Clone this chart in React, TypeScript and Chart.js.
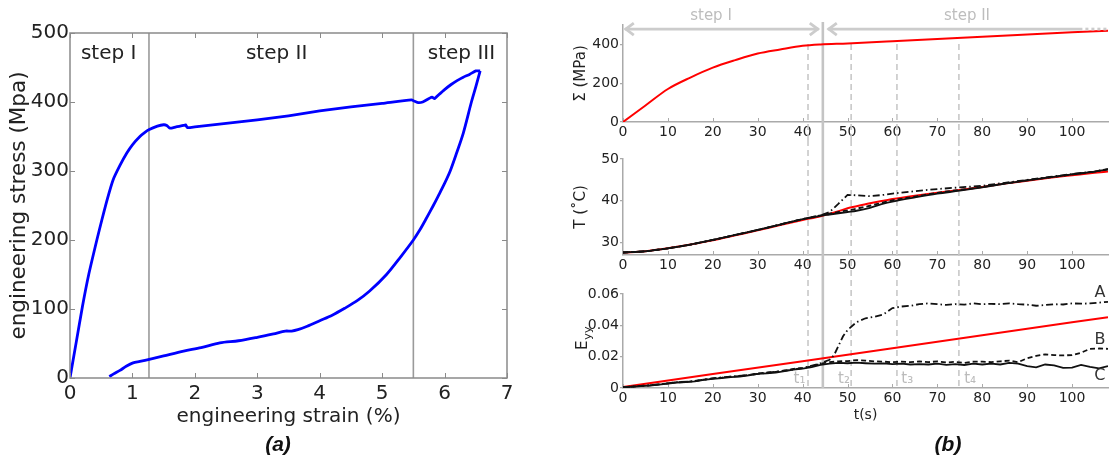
import React, { useEffect, useRef } from 'react';
import { Chart, registerables } from 'chart.js';

Chart.register(...registerables);

const FONT = "'DejaVu Sans', Verdana, sans-serif";

// ---------------- Panel (a) data ----------------
const strainLoad = [0, 0.1, 0.2, 0.3, 0.43, 0.51, 0.6, 0.69, 0.8, 0.91, 1.0, 1.12, 1.2, 1.27, 1.4, 1.5, 1.55, 1.6, 1.7, 1.82, 1.85, 1.88, 2.0, 2.5, 3.0, 3.5, 4.0, 4.5, 5.0, 5.47, 5.52, 5.58, 5.65, 5.75, 5.8, 5.84, 5.9, 6.0, 6.1, 6.2, 6.3, 6.4, 6.5, 6.57];
const stressLoad = [0, 52, 104, 150, 200, 229, 260, 287, 308, 326, 338, 350, 356, 360, 365, 367, 366, 362, 364, 366, 367, 363, 364, 369, 374, 380, 387, 393, 398, 403, 401, 399, 400, 405, 407, 405, 410, 418, 425, 431, 436, 440, 445, 445];
const strainUnload = [0.63, 0.7, 0.8, 0.9, 1.01, 1.12, 1.27, 1.5, 1.82, 2.1, 2.4, 2.7, 3.0, 3.26, 3.45, 3.55, 3.65, 3.8, 4.0, 4.2, 4.4, 4.6, 4.8, 5.07, 5.3, 5.5, 5.6, 5.7, 5.82, 5.9, 6.0, 6.09, 6.2, 6.3, 6.43, 6.5, 6.57];
const stressUnload = [2, 6, 11, 17, 22, 24, 27, 32, 39, 44, 51, 54, 59, 64, 68, 68, 70, 75, 83, 91, 101, 112, 126, 150, 176, 200, 214, 230, 250, 264, 282, 300, 328, 355, 400, 422, 445];
const strainTicks = [0, 1, 2, 3, 4, 5, 6, 7];
const stressTicks = [0, 100, 200, 300, 400, 500];
const stepBounds = [1.265, 5.5];
const stepNamesA = ['step I', 'step II', 'step III'];
const stepCentersA = [0.62, 3.31, 6.27];

// ---------------- Panel (b) data ----------------
const timeTicks = [0, 10, 20, 30, 40, 50, 60, 70, 80, 90, 100];

const sigmaTime = [0, 5, 10, 15, 20, 25, 30, 35, 40, 44, 50, 60, 70, 80, 90, 100, 108];
const sigmaVal = [0, 85, 170, 229, 280, 319, 353, 374, 393, 400, 405, 416, 428, 440, 451, 462, 471];
const sigmaTicks = [0, 200, 400];

const tempTime = [0, 5, 10, 15, 20, 25, 30, 35, 40, 44, 46, 48, 50, 52, 55, 58, 60, 65, 70, 75, 80, 85, 90, 95, 100, 105, 108];
const tempModel = [27.6, 27.9, 28.6, 29.5, 30.5, 31.7, 32.9, 34.2, 35.4, 36.3, 36.9, 37.5, 38.2, 38.7, 39.4, 40.0, 40.4, 41.2, 41.9, 42.6, 43.3, 44.1, 44.8, 45.5, 46.1, 46.7, 47.0];
const tempA = [27.6, 27.9, 28.6, 29.5, 30.6, 31.8, 33.0, 34.3, 35.6, 36.5, 37.3, 39.3, 41.4, 41.3, 41.1, 41.4, 41.7, 42.3, 42.8, 43.2, 43.6, 44.3, 45.0, 45.7, 46.4, 47.0, 47.6];
const tempB = [27.6, 27.9, 28.6, 29.5, 30.6, 31.8, 33.0, 34.3, 35.6, 36.5, 36.9, 37.3, 37.7, 38.1, 38.8, 39.6, 40.1, 41.0, 41.9, 42.6, 43.3, 44.1, 44.9, 45.6, 46.3, 47.0, 47.5];
const tempC = [27.6, 27.9, 28.6, 29.5, 30.6, 31.8, 33.0, 34.3, 35.6, 36.4, 36.7, 37.0, 37.3, 37.6, 38.3, 39.3, 39.8, 40.8, 41.7, 42.4, 43.2, 44.1, 44.9, 45.6, 46.3, 47.0, 47.5];
const tempTicks = [30, 40, 50];

const eTime = [0, 2, 4, 6, 8, 10, 12, 14, 16, 18, 20, 22, 24, 26, 28, 30, 32, 34, 36, 38, 40, 42, 44, 46, 48, 50, 52, 54, 56, 58, 60, 62, 64, 66, 68, 70, 72, 74, 76, 78, 80, 82, 84, 86, 88, 90, 92, 94, 96, 98, 100, 102, 104, 106, 108];
const eC = [0.0005, 0.0008, 0.0012, 0.0016, 0.0022, 0.0028, 0.0035, 0.0037, 0.0042, 0.0052, 0.0058, 0.0063, 0.0070, 0.0072, 0.0080, 0.0090, 0.0094, 0.0098, 0.0108, 0.0118, 0.0124, 0.0133, 0.0148, 0.0155, 0.0160, 0.0158, 0.0162, 0.0158, 0.0155, 0.0157, 0.0153, 0.0155, 0.0150, 0.0153, 0.0150, 0.0155, 0.0148, 0.0152, 0.0147, 0.0155, 0.0150, 0.0156, 0.0150, 0.0160, 0.0155, 0.0140, 0.0132, 0.0150, 0.0145, 0.0128, 0.0130, 0.0148, 0.0135, 0.0125, 0.0140];
const eB = [0.0005, 0.0009, 0.0013, 0.0017, 0.0023, 0.0030, 0.0036, 0.0039, 0.0045, 0.0054, 0.0061, 0.0066, 0.0073, 0.0076, 0.0084, 0.0093, 0.0098, 0.0103, 0.0112, 0.0122, 0.0128, 0.0138, 0.0155, 0.0165, 0.0170, 0.0172, 0.0178, 0.0175, 0.0170, 0.0168, 0.0165, 0.0168, 0.0165, 0.0170, 0.0165, 0.0170, 0.0163, 0.0167, 0.0160, 0.0168, 0.0168, 0.0165, 0.0170, 0.0175, 0.0165, 0.0190, 0.0205, 0.0215, 0.0210, 0.0208, 0.0210, 0.0225, 0.0250, 0.0252, 0.0250];
const eATime = [0, 4, 8, 12, 16, 20, 24, 28, 32, 36, 40, 44, 46, 47, 48, 49, 50, 52, 54, 56, 58, 60, 62, 64, 66, 68, 70, 72, 74, 76, 78, 80, 82, 84, 86, 88, 90, 92, 94, 96, 98, 100, 102, 104, 106, 108];
const eA = [0.0005, 0.0013, 0.0023, 0.0037, 0.0044, 0.0062, 0.0073, 0.0083, 0.0097, 0.0110, 0.0127, 0.0158, 0.0180, 0.0210, 0.0270, 0.0330, 0.0370, 0.0420, 0.0445, 0.0455, 0.0470, 0.0510, 0.0520, 0.0525, 0.0535, 0.0540, 0.0535, 0.0530, 0.0535, 0.0532, 0.0540, 0.0535, 0.0537, 0.0535, 0.0540, 0.0535, 0.0532, 0.0525, 0.0530, 0.0535, 0.0533, 0.0540, 0.0538, 0.0540, 0.0545, 0.0550];
const eModelTime = [0, 20, 40, 60, 80, 100, 108];
const eModel = [0.0006, 0.0089, 0.0171, 0.0254, 0.0336, 0.0419, 0.0452];
const eTicks = [0, 0.02, 0.04, 0.06];

const markerTimes = [41.2, 50.8, 61, 74.8];
const markerLabels = ['t₁', 't₂', 't₃', 't₄'];
const stepSwitchTime = 44.5;
const curveNames = ['A', 'B', 'C'];
const stepNamesB = ['step I', 'step II'];

// ---------------- helpers ----------------
const zip = (xs: number[], ys: number[]) => xs.map((x, i) => ({ x, y: ys[i] }));

const baseOpts = {
  responsive: false,
  animation: false,
  events: [] as any[],
  plugins: { legend: { display: false }, tooltip: { enabled: false }, title: { display: false } },
};

// ---------------- Panel (a) ----------------
function PanelA() {
  const ref = useRef<HTMLCanvasElement>(null);
  useEffect(() => {
    const decor = {
      id: 'decorA',
      beforeDatasetsDraw(chart: any) {
        const { ctx, chartArea: a, scales } = chart;
        const x = scales.x;
        ctx.save();
        ctx.strokeStyle = '#9a9a9a';
        ctx.lineWidth = 1.6;
        stepBounds.forEach((v) => {
          const px = x.getPixelForValue(v);
          ctx.beginPath();
          ctx.moveTo(px, a.top);
          ctx.lineTo(px, a.bottom);
          ctx.stroke();
        });
        ctx.fillStyle = '#222';
        ctx.font = `20px ${FONT}`;
        ctx.textAlign = 'center';
        ctx.textBaseline = 'middle';
        stepNamesA.forEach((s, i) => {
          ctx.fillText(s, x.getPixelForValue(stepCentersA[i]), scales.y.getPixelForValue(470));
        });
        ctx.restore();
      },
      afterDraw(chart: any) {
        const { ctx, chartArea: a, scales } = chart;
        ctx.save();
        ctx.strokeStyle = '#8a8a8a';
        ctx.lineWidth = 1.5;
        ctx.strokeRect(a.left, a.top, a.right - a.left, a.bottom - a.top);
        ctx.lineWidth = 1;
        ctx.beginPath();
        const L = 5;
        strainTicks.forEach((v) => {
          const px = Math.round(scales.x.getPixelForValue(v)) + 0.5;
          ctx.moveTo(px, a.bottom); ctx.lineTo(px, a.bottom - L);
          ctx.moveTo(px, a.top); ctx.lineTo(px, a.top + L);
        });
        stressTicks.forEach((v) => {
          const py = Math.round(scales.y.getPixelForValue(v)) + 0.5;
          ctx.moveTo(a.left, py); ctx.lineTo(a.left + L, py);
          ctx.moveTo(a.right, py); ctx.lineTo(a.right - L, py);
        });
        ctx.stroke();
        ctx.restore();
      },
    };
    const chart = new Chart(ref.current as HTMLCanvasElement, {
      type: 'line',
      data: {
        datasets: [
          { data: zip(strainLoad, stressLoad), borderColor: '#0000ff', borderWidth: 2.8, pointRadius: 0, tension: 0.2, fill: false },
          { data: zip(strainUnload, stressUnload), borderColor: '#0000ff', borderWidth: 2.8, pointRadius: 0, tension: 0.3, fill: false },
        ],
      },
      options: {
        ...baseOpts,
        layout: { padding: { top: 33, right: 53, left: 0, bottom: 0 } },
        scales: {
          x: {
            type: 'linear', min: 0, max: 7,
            afterBuildTicks: (s: any) => { s.ticks = strainTicks.map((v) => ({ value: v })); },
            afterFit: (s: any) => { s.height = 83; },
            grid: { display: false, drawTicks: false },
            border: { display: false },
            ticks: { font: { family: FONT, size: 20 }, color: '#222', padding: 4, maxRotation: 0, autoSkip: false, callback: (v: any) => String(v) },
            title: { display: true, text: 'engineering strain (%)', font: { family: FONT, size: 20 }, color: '#222', padding: { top: 0, bottom: 32 } },
          },
          y: {
            type: 'linear', min: 0, max: 500,
            afterBuildTicks: (s: any) => { s.ticks = stressTicks.map((v) => ({ value: v })); },
            afterFit: (s: any) => { s.width = 70; },
            grid: { display: false, drawTicks: false },
            border: { display: false },
            ticks: { font: { family: FONT, size: 20 }, color: '#222', padding: 1, callback: (v: any) => String(v) },
            title: { display: true, text: 'engineering stress (Mpa)', font: { family: FONT, size: 21.5 }, color: '#222', padding: { top: 7, bottom: 0 } },
          },
        },
      } as any,
      plugins: [decor],
    });
    return () => chart.destroy();
  }, []);
  return <canvas ref={ref} width={560} height={461} style={{ position: 'absolute', left: 0, top: 0 }} />;
}

// ---------------- Panel (b) ----------------
type RightOpts = {
  datasets: any[];
  yMin: number; yMax: number; yTicks: number[];
  yTitle?: string; padTop: number; xHeight: number;
  xTitle?: string;
  lineTop: (c: any) => { dashed: number; solid: number };
  lineBottom: (c: any) => number;
  extra?: any;
};

function rightConfig(o: RightOpts) {
  const lines = {
    id: 'markersB',
    beforeDatasetsDraw(chart: any) {
      const { ctx, scales, chartArea: a } = chart;
      const x = scales.x;
      const tops = o.lineTop(chart);
      const bottom = o.lineBottom(chart);
      ctx.save();
      ctx.strokeStyle = '#c8c8c8';
      ctx.lineWidth = 1.6;
      ctx.setLineDash([6, 4]);
      markerTimes.forEach((t) => {
        const px = x.getPixelForValue(t);
        ctx.beginPath();
        ctx.moveTo(px, tops.dashed);
        ctx.lineTo(px, bottom);
        ctx.stroke();
      });
      ctx.setLineDash([]);
      ctx.lineWidth = 2.6;
      ctx.strokeStyle = '#c4c4c4';
      const sx = x.getPixelForValue(stepSwitchTime);
      ctx.beginPath();
      ctx.moveTo(sx, tops.solid);
      ctx.lineTo(sx, bottom);
      ctx.stroke();
      // inward x ticks
      ctx.strokeStyle = '#aaa';
      ctx.lineWidth = 1;
      ctx.beginPath();
      timeTicks.forEach((t) => {
        const px = Math.round(x.getPixelForValue(t)) + 0.5;
        ctx.moveTo(px, a.bottom);
        ctx.lineTo(px, a.bottom - 4);
      });
      ctx.stroke();
      ctx.restore();
    },
  };
  return {
    type: 'line',
    data: { datasets: o.datasets },
    options: {
      ...baseOpts,
      layout: { padding: { top: o.padTop, right: 5, left: 0, bottom: 0 } },
      scales: {
        x: {
          type: 'linear', min: 0, max: 108,
          afterBuildTicks: (s: any) => { s.ticks = timeTicks.map((v) => ({ value: v })); },
          afterFit: (s: any) => { s.height = o.xHeight; },
          grid: { display: false, drawTicks: false },
          border: { display: true, color: '#aaa', width: 1.5 },
          ticks: { font: { family: FONT, size: 14 }, color: '#222', padding: 2, maxRotation: 0, autoSkip: false, callback: (v: any) => String(v) },
          title: o.xTitle
            ? { display: true, text: o.xTitle, font: { family: FONT, size: 14 }, color: '#222', padding: { top: 0, bottom: 37 } }
            : { display: false },
        },
        y: {
          type: 'linear', min: o.yMin, max: o.yMax,
          afterBuildTicks: (s: any) => { s.ticks = o.yTicks.map((v) => ({ value: v })); },
          afterFit: (s: any) => { s.width = 63; },
          grid: { display: true, drawOnChartArea: false, drawTicks: true, tickLength: 3, color: '#aaa', lineWidth: 1.2 },
          border: { display: true, color: '#aaa', width: 1.5 },
          ticks: { font: { family: FONT, size: 14 }, color: '#222', padding: 1, callback: (v: any) => String(v) },
          title: o.yTitle
            ? { display: true, text: o.yTitle, font: { family: FONT, size: 15 }, color: '#222', padding: { top: 12, bottom: 0 } }
            : { display: false },
        },
      },
    } as any,
    plugins: o.extra ? [lines, o.extra] : [lines],
  } as any;
}

const redLine = (data: any, smooth = true) => ({ data, borderColor: '#ff0000', borderWidth: 2, pointRadius: 0, tension: smooth ? 0.4 : 0, cubicInterpolationMode: smooth ? 'monotone' : 'default', fill: false });
const blackLine = (data: any, dash: number[], smooth = false) => ({ data, borderColor: '#111', borderWidth: 1.8, borderDash: dash, pointRadius: 0, tension: smooth ? 0.4 : 0, cubicInterpolationMode: smooth ? 'monotone' : 'default', fill: false });

function drawChevron(ctx: CanvasRenderingContext2D, x: number, y: number, dir: number) {
  ctx.beginPath();
  ctx.moveTo(x + dir * 8, y - 6);
  ctx.lineTo(x, y);
  ctx.lineTo(x + dir * 8, y + 6);
  ctx.stroke();
}

function PanelBTop() {
  const ref = useRef<HTMLCanvasElement>(null);
  useEffect(() => {
    const arrows = {
      id: 'stepArrows',
      afterDraw(chart: any) {
        const { ctx, scales } = chart;
        const x = scales.x;
        const y = scales.y.getPixelForValue(479);
        ctx.save();
        ctx.strokeStyle = '#cccccc';
        ctx.lineWidth = 2.8;
        ctx.lineCap = 'butt';
        const a0 = x.getPixelForValue(0.4), a1 = x.getPixelForValue(43.6);
        ctx.beginPath(); ctx.moveTo(a0, y); ctx.lineTo(a1, y); ctx.stroke();
        drawChevron(ctx, a0 + 1, y, 1);
        drawChevron(ctx, a1 - 1, y, -1);
        const b0 = x.getPixelForValue(45.6), b1 = x.getPixelForValue(102.3), b2 = x.getPixelForValue(108);
        ctx.beginPath(); ctx.moveTo(b0, y); ctx.lineTo(b1, y); ctx.stroke();
        drawChevron(ctx, b0 + 1, y, 1);
        ctx.setLineDash([3, 3]);
        ctx.beginPath(); ctx.moveTo(b1 + 3, y); ctx.lineTo(b2, y); ctx.stroke();
        ctx.setLineDash([]);
        ctx.fillStyle = '#bdbdbd';
        ctx.font = `15px ${FONT}`;
        ctx.textAlign = 'center';
        ctx.textBaseline = 'middle';
        ctx.fillText(stepNamesB[0], x.getPixelForValue(19.6), 16.5);
        ctx.fillText(stepNamesB[1], x.getPixelForValue(76.6), 16.5);
        ctx.restore();
      },
    };
    const cfg = rightConfig({
      datasets: [redLine(zip(sigmaTime, sigmaVal))],
      yMin: 0, yMax: 500, yTicks: sigmaTicks, yTitle: 'Σ (MPa)',
      padTop: 25, xHeight: 18,
      lineTop: () => ({ dashed: 44, solid: 22 }),
      lineBottom: (c: any) => c.height,
      extra: arrows,
    });
    const chart = new Chart(ref.current as HTMLCanvasElement, cfg);
    return () => chart.destroy();
  }, []);
  return <canvas ref={ref} width={553} height={140} style={{ position: 'absolute', left: 560, top: 0 }} />;
}

function PanelBMid() {
  const ref = useRef<HTMLCanvasElement>(null);
  useEffect(() => {
    const cfg = rightConfig({
      datasets: [
        blackLine(zip(tempTime, tempB), [5, 3], true),
        blackLine(zip(tempTime, tempC), [], true),
        blackLine(zip(tempTime, tempA), [7, 3, 1.5, 3], false),
        redLine(zip(tempTime, tempModel)),
      ],
      yMin: 27, yMax: 50, yTicks: tempTicks, yTitle: 'T (˚C)',
      padTop: 19, xHeight: 15,
      lineTop: () => ({ dashed: 0, solid: 0 }),
      lineBottom: (c: any) => c.height,
    });
    const chart = new Chart(ref.current as HTMLCanvasElement, cfg);
    return () => chart.destroy();
  }, []);
  return <canvas ref={ref} width={553} height={130} style={{ position: 'absolute', left: 560, top: 140 }} />;
}

function PanelBBot() {
  const ref = useRef<HTMLCanvasElement>(null);
  useEffect(() => {
    const labels = {
      id: 'labelsE',
      afterDraw(chart: any) {
        const { ctx, scales } = chart;
        const x = scales.x, y = scales.y;
        ctx.save();
        ctx.textAlign = 'center';
        ctx.textBaseline = 'middle';
        ctx.fillStyle = '#333';
        ctx.font = `16px ${FONT}`;
        const ly = [0.0605, 0.0306, 0.0077];
        curveNames.forEach((n, i) => ctx.fillText(n, x.getPixelForValue(106.2), y.getPixelForValue(ly[i])));
        ctx.fillStyle = '#bbbbbb';
        ctx.font = `15px ${FONT}`;
        const lx = [39.3, 49.2, 63.3, 77.3];
        markerLabels.forEach((n, i) => ctx.fillText(n, x.getPixelForValue(lx[i]), y.getPixelForValue(0.0055)));
        // y title E_yy
        ctx.fillStyle = '#222';
        ctx.translate(22, y.getPixelForValue(0.032));
        ctx.rotate(-Math.PI / 2);
        ctx.textAlign = 'left';
        ctx.textBaseline = 'alphabetic';
        ctx.font = `15px ${FONT}`;
        const w = ctx.measureText('E').width;
        const total = w + 15;
        ctx.fillText('E', -total / 2, 5);
        ctx.font = `11px ${FONT}`;
        ctx.fillText('yy', -total / 2 + w + 1, 9);
        ctx.restore();
      },
    };
    const cfg = rightConfig({
      datasets: [
        blackLine(zip(eTime, eC), []),
        blackLine(zip(eTime, eB), [5, 3]),
        blackLine(zip(eATime, eA), [7, 3, 1.5, 3]),
        redLine(zip(eModelTime, eModel), false),
      ],
      yMin: 0, yMax: 0.06, yTicks: eTicks,
      padTop: 24, xHeight: 73, xTitle: 't(s)',
      lineTop: () => ({ dashed: 0, solid: 0 }),
      lineBottom: (c: any) => c.chartArea.bottom,
      extra: labels,
    });
    const chart = new Chart(ref.current as HTMLCanvasElement, cfg);
    return () => chart.destroy();
  }, []);
  return <canvas ref={ref} width={553} height={191} style={{ position: 'absolute', left: 560, top: 270 }} />;
}

const captionStyle: React.CSSProperties = {
  position: 'absolute',
  transform: 'translate(-50%, -50%)',
  font: "bold italic 21px 'Liberation Sans', Arial, sans-serif",
  color: '#111',
  whiteSpace: 'nowrap',
};

export default function App() {
  return (
    <div style={{ position: 'absolute', left: 0, top: 0, width: 1113, height: 461, background: '#fff', overflow: 'hidden' }}>
      <PanelA />
      <PanelBTop />
      <PanelBMid />
      <PanelBBot />
      <div style={{ ...captionStyle, left: 278, top: 444 }}>(a)</div>
      <div style={{ ...captionStyle, left: 948, top: 444 }}>(b)</div>
    </div>
  );
}
